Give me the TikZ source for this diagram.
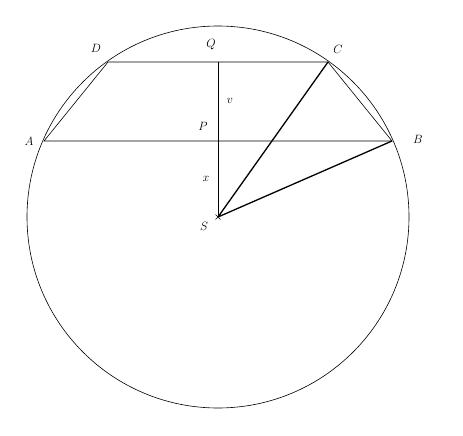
\documentclass[tikz,border=0pt]{standalone}
\usetikzlibrary{calc}
\begin{document}
\begin{tikzpicture}[x=1pt,y=-1pt,
  thinline/.style={line width=0.6pt},
  thickline/.style={line width=1.3pt},
  lbl/.style={font=\fontsize{11.5}{14}\selectfont, inner sep=0pt}]
\useasboundingbox (0,0) rectangle (463,436);
\coordinate (S) at (218,217);
\coordinate (A) at (44,141);
\coordinate (B) at (392,141);
\coordinate (C) at (328,62);
\coordinate (D) at (108,62);
\coordinate (Q) at (218,62);
\coordinate (P) at (218,141);
\draw[thinline] (S) circle (191);
\draw[thinline] (A) -- (D) -- (C) -- (B) -- cycle;
\draw[thinline] (Q) -- (S);
\draw[thickline] (S) -- (C);
\draw[thickline] (S) -- (B);
\draw[line width=0.5pt] ($(S)+(-2.5,-2.5)$) -- ($(S)+(2.5,2.5)$) ($(S)+(-2.5,2.5)$) -- ($(S)+(2.5,-2.5)$);
\node[lbl] (lA) at (29,141) {$A$};
\node[lbl] (lB) at (418,139) {$B$};
\node[lbl] (lC) at (338,49) {$C$};
\node[lbl] (lD) at (96,48) {$D$};
\node[lbl] (lQ) at (211,45) {$Q$};
\node[lbl] (lP) at (203,126) {$P$};
\node[lbl] (lv) at (230,101) {$v$};
\node[lbl] (lx) at (206,179) {$x$};
\node[lbl] (lS) at (204,226) {$S$};
\end{tikzpicture}
\end{document}
